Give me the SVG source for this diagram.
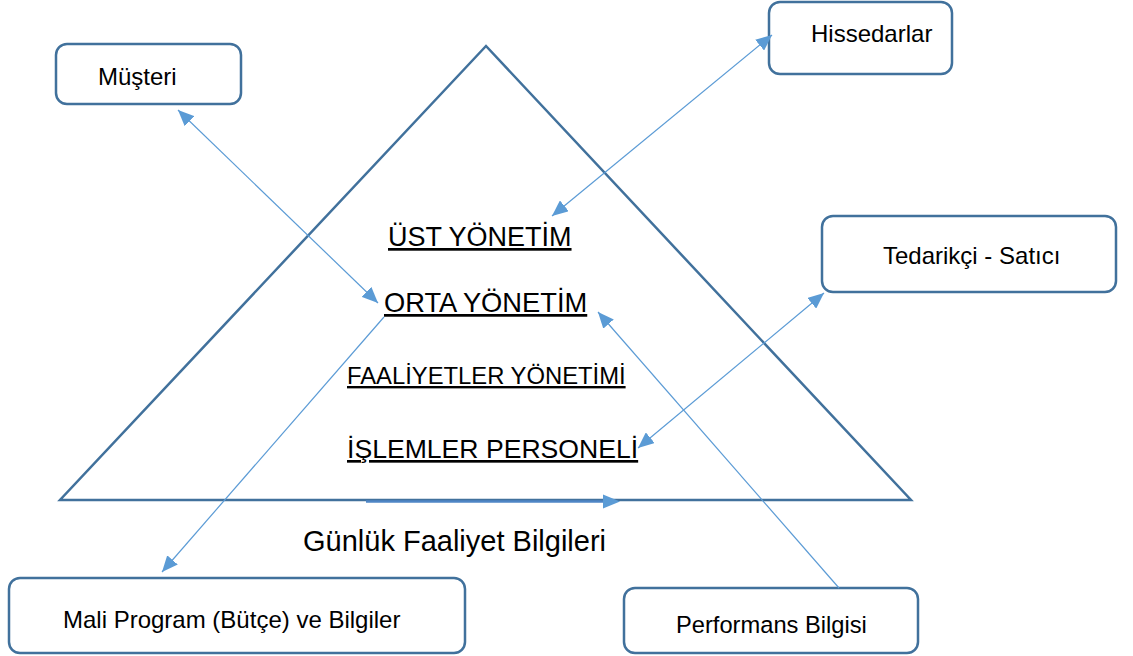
<svg xmlns="http://www.w3.org/2000/svg" width="1133" height="656" viewBox="0 0 1133 656">
<style>
.box{fill:#fff;stroke:#41719C;stroke-width:2.5}
.t{font-family:"Liberation Sans",Arial,sans-serif;fill:#000}
.bt{font-size:24px}
.lv{font-size:27px;text-decoration:underline}
.con{stroke:#5B9BD5;stroke-width:1.2;fill:none}
</style>
<defs>
<marker id="ah" markerUnits="userSpaceOnUse" markerWidth="18" markerHeight="14" refX="16" refY="7" orient="auto-start-reverse" viewBox="0 0 18 14">
<path d="M0,0 L16,7 L0,14 Z" fill="#5B9BD5"/>
</marker>
</defs>
<rect width="1133" height="656" fill="#fff"/>
<g id="pyramid">
<polygon points="486,46 60,500 911,500" fill="none" stroke="#41719C" stroke-width="2.5" stroke-linejoin="miter"/>
<text class="t lv" x="388" y="246" font-size="26.8">ÜST YÖNETİM</text>
<text class="t lv" x="384" y="312" style="font-size:27.3px">ORTA YÖNETİM</text>
<text class="t" x="347" y="384" font-size="23.8" text-decoration="underline">FAALİYETLER YÖNETİMİ</text>
<text class="t lv" x="347" y="458" style="font-size:26.6px">İŞLEMLER PERSONELİ</text>
</g>
<g id="musteri">
<rect class="box" x="56" y="44" width="185" height="60" rx="11"/>
<text class="t bt" x="98" y="85">Müşteri</text>
</g>
<g id="hissedarlar">
<rect class="box" x="769" y="2" width="183" height="72" rx="11"/>
<text class="t bt" x="811" y="42">Hissedarlar</text>
</g>
<g id="tedarikci">
<rect class="box" x="822" y="216" width="294" height="76" rx="11"/>
<text class="t bt" x="883" y="264">Tedarikçi - Satıcı</text>
</g>
<g id="mali">
<rect class="box" x="9" y="578" width="456" height="75" rx="11"/>
<text class="t bt" x="63" y="628">Mali Program (Bütçe) ve Bilgiler</text>
</g>
<g id="performans">
<rect class="box" x="624" y="588" width="294" height="65" rx="11"/>
<text class="t" font-size="23.7" x="676" y="633">Performans Bilgisi</text>
</g>
<g id="gunluk">
<text class="t" font-size="29" x="303" y="551">Günlük Faaliyet Bilgileri</text>
</g>
<g id="connectors">
<line class="con" x1="178" y1="110" x2="378" y2="303" marker-start="url(#ah)" marker-end="url(#ah)"/>
<line class="con" x1="772" y1="35" x2="552" y2="216" marker-start="url(#ah)" marker-end="url(#ah)"/>
<line class="con" x1="824" y1="293" x2="638" y2="448" marker-start="url(#ah)" marker-end="url(#ah)"/>
<line class="con" x1="384" y1="317" x2="162" y2="572" marker-end="url(#ah)"/>
<line class="con" x1="839" y1="588" x2="598" y2="312" marker-end="url(#ah)"/>
<line x1="366" y1="501.5" x2="606" y2="501.5" stroke="#4F86C6" stroke-width="2.5"/>
<path d="M603,494.5 L620,501.5 L603,508.5 Z" fill="#5B9BD5"/>
</g>
</svg>
